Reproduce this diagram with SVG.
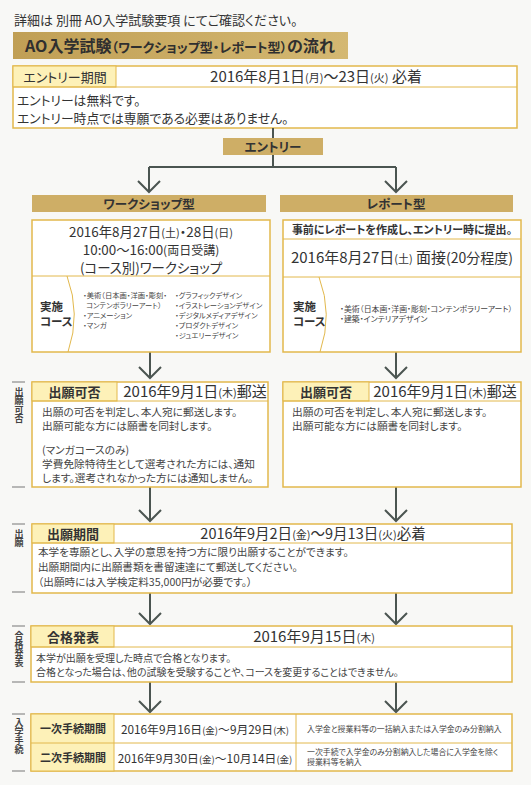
<svg xmlns="http://www.w3.org/2000/svg" width="531" height="785" viewBox="0 0 531 785">
<defs>
<linearGradient id="gold" x1="0" y1="0" x2="1" y2="0">
<stop offset="0" stop-color="#c09f55"/>
<stop offset="1" stop-color="#d4b872"/>
</linearGradient>
</defs>
<style>
text{font-family:"Noto Sans CJK JP","Noto Sans",sans-serif;fill:#333;font-feature-settings:"palt"}
.box{fill:#fff;stroke:#e2b84c;stroke-width:1.5}
.lab{fill:#fdf1b8;stroke:#e2b84c;stroke-width:1}
.div{stroke:#e2b84c;stroke-width:1;fill:none}
.bar{fill:#ceae66}
.con{stroke:#4b5551;stroke-width:2;fill:none}
.side{stroke:#777;stroke-width:1}
.h{font-size:13px;font-weight:bold;text-anchor:middle}
.d{font-size:15px;text-anchor:middle}
.w{font-size:13.4px;text-anchor:middle}
.k{font-size:11.5px;font-weight:bold}
.e{font-size:12.8px}
.b{font-size:10.7px;fill:#444}
.b2{font-size:10.6px;fill:#444}
.b3{font-size:10px;fill:#444}
.s{font-size:7.3px;fill:#444}
.s2{font-size:7.9px;fill:#444}
.v{font-size:9px;font-weight:bold;fill:#444;writing-mode:vertical-rl}
.p{font-size:11px}
.q{font-size:9.5px}
</style>
<rect width="531" height="785" fill="#f8f8f6"/>
<g id="intro">
<text x="14" y="25" style="font-size:13px">詳細は 別冊 AO入学試験要項 にてご確認ください。</text>
</g>
<g id="title">
<rect x="13" y="32" width="335" height="27" fill="url(#gold)"/>
<text x="25" y="52" style="font-size:16px;font-weight:bold;fill:#2f2f2f">AO入学試験<tspan style="font-size:13px">（ワークショップ型・レポート型）</tspan>の流れ</text>
</g>
<g id="entry-period">
<rect class="box" x="13" y="66" width="504" height="62"/>
<rect class="lab" x="13" y="66" width="103" height="21"/>
<line class="div" x1="13" y1="87" x2="517" y2="87"/>
<text x="65" y="82" style="font-size:13px;text-anchor:middle">エントリー期間</text>
<text x="316" y="82" class="d">2016年8月1日<tspan class="p">(月)</tspan>～23日<tspan class="p">(火)</tspan> 必着</text>
<text class="e" x="17" y="104.5">エントリーは無料です。</text>
<text class="e" x="17" y="122.5">エントリー時点では専願である必要はありません。</text>
</g>
<g id="connectors">
<path class="con" d="M273,128V138M273,155V167M149,167H396M149,167V192M396,167V192"/>
<path class="con" d="M138,181L149,192L160,181M385,181L396,192L407,181"/>
<path class="con" d="M150,352V378M139,367L150,378L161,367M396,352V378M385,367L396,378L407,367"/>
<path class="con" d="M150,487V521M139,510L150,521L161,510M396,487V521M385,510L396,521L407,510"/>
<path class="con" d="M150,593V624M139,613L150,624L161,613M396,593V624M385,613L396,624L407,613"/>
<path class="con" d="M150,682V712M139,701L150,712L161,701M396,682V712M385,701L396,712L407,701"/>
</g>
<g id="entry">
<rect class="bar" x="223" y="138" width="100" height="17"/>
<text x="273" y="151.5" style="font-size:12.5px;font-weight:bold;text-anchor:middle">エントリー</text>
</g>
<g id="workshop-type">
<rect class="bar" x="32" y="195" width="234" height="17"/>
<text x="149" y="208.5" style="font-size:12.5px;font-weight:bold;text-anchor:middle">ワークショップ型</text>
</g>
<g id="report-type">
<rect class="bar" x="280" y="195" width="233" height="17"/>
<text x="396" y="208.5" style="font-size:12.5px;font-weight:bold;text-anchor:middle">レポート型</text>
</g>
<g id="workshop-detail">
<rect class="box" x="32" y="220" width="238" height="132"/>
<line class="div" x1="32" y1="276" x2="270" y2="276"/>
<path class="div" d="M67,276Q81,314 68,352"/>
<text x="151" y="236.5" class="w">2016年8月27日<tspan class="p">(土)</tspan>・28日<tspan class="p">(日)</tspan></text>
<text x="151" y="254.5" class="w">10:00～16:00<tspan style="font-size:12px">(両日受講)</tspan></text>
<text x="151" y="272.5" class="w">(コース別)ワークショップ</text>
<text class="k" x="40" y="311">実施</text>
<text class="k" x="40" y="326">コース</text>
<text class="s" x="83" y="298">・美術（日本画・洋画・彫刻・</text>
<text class="s" x="86" y="308">コンテンポラリーアート）</text>
<text class="s" x="83" y="318">・アニメーション</text>
<text class="s" x="83" y="328">・マンガ</text>
<text class="s" x="175" y="298">・グラフィックデザイン</text>
<text class="s" x="175" y="308">・イラストレーションデザイン</text>
<text class="s" x="175" y="318">・デジタルメディアデザイン</text>
<text class="s" x="175" y="328">・プロダクトデザイン</text>
<text class="s" x="175" y="338">・ジュエリーデザイン</text>
</g>
<g id="report-detail">
<rect class="box" x="283" y="220" width="238" height="132"/>
<line class="div" x1="283" y1="239" x2="521" y2="239"/>
<line class="div" x1="283" y1="277" x2="521" y2="277"/>
<path class="div" d="M319,277Q333,314 320,352"/>
<text x="402" y="234" style="font-size:11px;font-weight:bold;text-anchor:middle">事前にレポートを作成し、エントリー時に提出。</text>
<text x="402" y="263" class="d">2016年8月27日<tspan class="p">(土)</tspan> 面接<tspan style="font-size:14px">(20分程度)</tspan></text>
<text class="k" x="293" y="311">実施</text>
<text class="k" x="293" y="326">コース</text>
<text class="s2" x="340" y="311.5">・美術（日本画・洋画・彫刻・コンテンポラリーアート）</text>
<text class="s2" x="340" y="322">・建築・インテリアデザイン</text>
</g>
<g id="side-labels">
<path class="side" d="M12,382H25M12,487H25M12,524H25M12,592H25M12,626H25M12,682H25M12,714H25M12,771H25"/>
<text class="v" x="19" y="387">出願可否</text>
<text class="v" x="19" y="529">出願</text>
<text class="v" x="19" y="631">合格発表</text>
<text class="v" x="19" y="718">入学手続</text>
</g>
<g id="result-workshop">
<rect class="box" x="32" y="382" width="236" height="105"/>
<rect class="lab" x="32" y="382" width="85" height="19"/>
<line class="div" x1="32" y1="401" x2="268" y2="401"/>
<text x="74.5" y="396.5" class="h">出願可否</text>
<text x="195" y="397" class="d">2016年9月1日<tspan class="p">(木)</tspan>郵送</text>
<text class="b" x="42" y="416">出願の可否を判定し、本人宛に郵送します。</text>
<text class="b" x="42" y="430">出願可能な方には願書を同封します。</text>
<text class="b" x="42" y="454">(マンガコースのみ)</text>
<text class="b" x="42" y="468">学費免除特待生として選考された方には、通知</text>
<text class="b" x="42" y="482">します。選考されなかった方には通知しません。</text>
</g>
<g id="result-report">
<rect class="box" x="283" y="382" width="238" height="105"/>
<rect class="lab" x="283" y="382" width="86" height="19"/>
<line class="div" x1="283" y1="401" x2="521" y2="401"/>
<text x="326" y="396.5" class="h">出願可否</text>
<text x="445" y="397" class="d">2016年9月1日<tspan class="p">(木)</tspan>郵送</text>
<text class="b" x="292" y="416">出願の可否を判定し、本人宛に郵送します。</text>
<text class="b" x="292" y="430">出願可能な方には願書を同封します。</text>
</g>
<g id="application">
<rect class="box" x="32" y="524" width="480" height="69"/>
<rect class="lab" x="32" y="524" width="82" height="19"/>
<line class="div" x1="32" y1="543" x2="512" y2="543"/>
<text x="73" y="538.5" class="h">出願期間</text>
<text x="313" y="539" class="d" style="font-size:14.5px">2016年9月2日<tspan class="p">(金)</tspan>～9月13日<tspan class="p">(火)</tspan>必着</text>
<text class="b2" x="38" y="556">本学を専願とし、入学の意思を持つ方に限り出願することができます。</text>
<text class="b2" x="38" y="570.5">出願期間内に出願書類を書留速達にて郵送してください。</text>
<text class="b2" x="38" y="585.5">（出願時には入学検定料35,000円が必要です。）</text>
</g>
<g id="pass">
<rect class="box" x="31" y="626" width="481" height="56"/>
<rect class="lab" x="31" y="626" width="83" height="21"/>
<line class="div" x1="31" y1="647" x2="512" y2="647"/>
<text x="73" y="641.5" class="h">合格発表</text>
<text x="314" y="642" class="d">2016年9月15日<tspan class="p">(木)</tspan></text>
<text class="b3" x="36" y="662">本学が出願を受理した時点で合格となります。</text>
<text class="b3" x="36" y="676">合格となった場合は、他の試験を受験することや、コースを変更することはできません。</text>
</g>
<g id="enrollment">
<rect class="box" x="31" y="714" width="481" height="57"/>
<rect class="lab" x="31" y="714" width="83" height="57"/>
<line class="div" x1="31" y1="743" x2="512" y2="743"/>
<line class="div" x1="296" y1="714" x2="296" y2="771"/>
<text x="73" y="733" style="font-size:11px;font-weight:bold;text-anchor:middle">一次手続期間</text>
<text x="73" y="762" style="font-size:11px;font-weight:bold;text-anchor:middle">二次手続期間</text>
<text x="205" y="734" style="font-size:11.8px;text-anchor:middle">2016年9月16日<tspan class="q">(金)</tspan>～9月29日<tspan class="q">(木)</tspan></text>
<text x="205" y="763" style="font-size:11.8px;text-anchor:middle">2016年9月30日<tspan class="q">(金)</tspan>～10月14日<tspan class="q">(金)</tspan></text>
<text class="s2" x="307" y="732">入学金と授業料等の一括納入または入学金のみ分割納入</text>
<text class="s2" x="307" y="754.5">一次手続で入学金のみ分割納入した場合に入学金を除く</text>
<text class="s2" x="307" y="765">授業料等を納入</text>
</g>
</svg>
